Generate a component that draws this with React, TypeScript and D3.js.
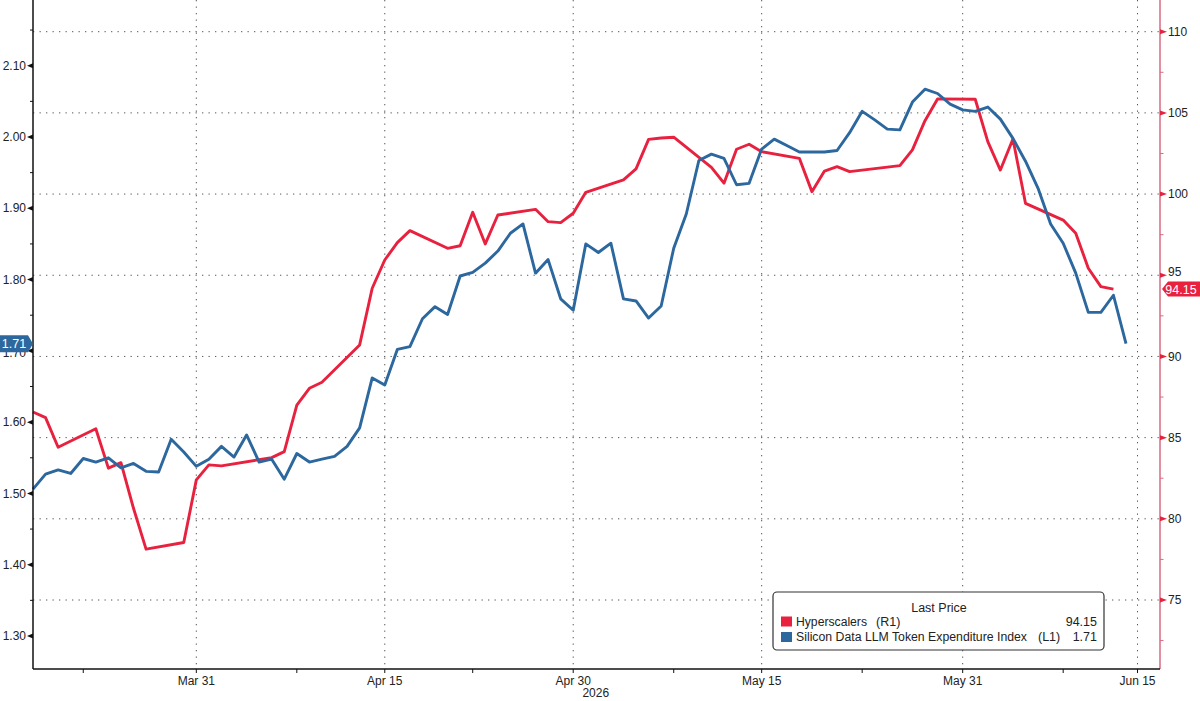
import React from "react";
import * as d3 from "d3";

// Silicon Data LLM Token Expenditure Index (left axis), daily incl. weekends
const blueStart = new Date(2026, 2, 18);
const blueEnd = new Date(2026, 5, 14);
const blueValues = [
  // Mar 18 - Mar 31
  1.506, 1.527, 1.533, 1.528, 1.549, 1.544, 1.55, 1.536, 1.542, 1.531, 1.53, 1.576, 1.558, 1.538,
  // Apr
  1.548, 1.566, 1.551, 1.582, 1.544, 1.548, 1.52, 1.556, 1.544, 1.548, 1.552, 1.566, 1.592, 1.662, 1.652,
  1.702, 1.706, 1.745, 1.762, 1.751, 1.805, 1.81, 1.823, 1.84, 1.865, 1.878, 1.809, 1.828, 1.773, 1.757,
  // May
  1.85, 1.838, 1.851, 1.773, 1.77, 1.746, 1.763, 1.844, 1.892, 1.967, 1.976, 1.97, 1.933, 1.935, 1.983,
  1.997, 1.988, 1.979, 1.979, 1.979, 1.981, 2.006, 2.036, 2.024, 2.011, 2.01, 2.049, 2.067, 2.061, 2.046, 2.038,
  // Jun 1 - Jun 13
  2.036, 2.042, 2.025, 1.998, 1.966, 1.928, 1.878, 1.851, 1.809, 1.754, 1.754, 1.778, 1.71,
];

// Hyperscalers (right axis), trading days
const redDates = [
  "2026-03-18", "2026-03-19", "2026-03-20", "2026-03-23", "2026-03-24", "2026-03-25", "2026-03-26", "2026-03-27",
  "2026-03-30", "2026-03-31", "2026-04-01", "2026-04-02", "2026-04-06", "2026-04-07", "2026-04-08", "2026-04-09",
  "2026-04-10", "2026-04-13", "2026-04-14", "2026-04-15", "2026-04-16", "2026-04-17", "2026-04-20", "2026-04-21",
  "2026-04-22", "2026-04-23", "2026-04-24", "2026-04-27", "2026-04-28", "2026-04-29", "2026-04-30", "2026-05-01",
  "2026-05-04", "2026-05-05", "2026-05-06", "2026-05-07", "2026-05-08", "2026-05-11", "2026-05-12", "2026-05-13",
  "2026-05-14", "2026-05-15", "2026-05-18", "2026-05-19", "2026-05-20", "2026-05-21", "2026-05-22", "2026-05-26",
  "2026-05-27", "2026-05-28", "2026-05-29", "2026-06-01", "2026-06-02", "2026-06-03", "2026-06-04", "2026-06-05",
  "2026-06-08", "2026-06-09", "2026-06-10", "2026-06-11", "2026-06-12",
];
const redValues = [
  86.58, 86.23, 84.41, 85.55, 83.12, 83.46, 80.65, 78.13, 78.54, 82.4,
  83.32, 83.26, 83.77, 84.14, 87.0, 88.04, 88.41, 90.71, 94.2, 95.94, 97.01, 97.75, 96.66, 96.82, 98.88,
  96.93, 98.71, 99.06, 98.3, 98.24, 98.82,
  100.11, 100.87, 101.55, 103.37, 103.45, 103.5, 101.65, 100.67, 102.76, 103.07, 102.61, 102.2, 100.15,
  101.42, 101.69, 101.38, 101.75, 102.72, 104.52, 105.86,
  105.84, 103.23, 101.48, 103.39, 99.43, 98.4, 97.59, 95.43, 94.3, 94.15,
];

const seriesNames = ["Hyperscalers", "Silicon Data LLM Token Expenditure Index"];
const seriesAxes = ["(R1)", "(L1)"];

const leftTicks = [1.3, 1.4, 1.5, 1.6, 1.7, 1.8, 1.9, 2.0, 2.1];
const leftMinor = [1.35, 1.45, 1.55, 1.65, 1.75, 1.85, 1.95, 2.05, 2.15];
const rightTicks = [75, 80, 85, 90, 95, 100, 105, 110];
const rightMinor = [72.5, 77.5, 82.5, 87.5, 92.5, 97.5, 102.5, 107.5];
const dateTicks = ["2026-03-31", "2026-04-15", "2026-04-30", "2026-05-15", "2026-05-31", "2026-06-15"];
const dateMinor = ["2026-03-22", "2026-04-08", "2026-04-22", "2026-05-08", "2026-05-23", "2026-06-08"];
const yearLabel = "2026";

const RED = "#e8213f";
const BLUE = "#2c679e";
const AXIS_RED = "#d96a82";
const FONT = "'Liberation Sans', Arial, sans-serif";

const parse = d3.timeParse("%Y-%m-%d");
const fmt = d3.timeFormat("%b %d");

const App = () => {
  const left = 33;
  const right = 1160;
  const bottom = 669;

  const x = d3
    .scaleTime()
    .domain([blueStart, new Date(2026, 5, 13), new Date(2026, 5, 15)])
    .range([33, 1126, 1137.5]);
  const yL = d3.scaleLinear().domain([2.1, 1.3]).range([65.7, 636]);
  const yR = d3.scaleLinear().domain([110, 75]).range([31.7, 600]);

  const blueDates = d3.timeDay.range(blueStart, blueEnd);
  const blue = blueDates.map((d, i) => ({ d, v: blueValues[i] }));
  const red = redDates.map((s, i) => ({ d: parse(s)!, v: redValues[i] }));

  const blueLine = d3
    .line<{ d: Date; v: number }>()
    .x((p) => x(p.d))
    .y((p) => yL(p.v));
  const redLine = d3
    .line<{ d: Date; v: number }>()
    .x((p) => x(p.d))
    .y((p) => yR(p.v));

  const lastBlue = blue[blue.length - 1];
  const lastRed = red[red.length - 1];
  const by = yL(lastBlue.v);
  const ry = yR(lastRed.v);

  const dot = { stroke: "#555", strokeWidth: 1, strokeDasharray: "1.3 5.2" };

  return (
    <svg
      width={1200}
      height={701}
      style={{ position: "absolute", left: 0, top: 0, background: "#fff" }}
      fontFamily={FONT}
    >
      {/* grid */}
      {rightTicks.map((t) => (
        <line key={"hg" + t} x1={left} x2={right} y1={yR(t)} y2={yR(t)} {...dot} />
      ))}
      {dateTicks.map((s) => (
        <line key={"vg" + s} x1={x(parse(s)!)} x2={x(parse(s)!)} y1={0} y2={bottom} {...dot} />
      ))}

      {/* lines */}
      <path d={redLine(red)!} fill="none" stroke={RED} strokeWidth={2.9} strokeLinejoin="round" />
      <path d={blueLine(blue)!} fill="none" stroke={BLUE} strokeWidth={2.9} strokeLinejoin="round" />

      {/* left axis */}
      <line x1={left} x2={left} y1={0} y2={bottom} stroke="#111" strokeWidth={1.5} />
      {leftMinor.map((t) => (
        <line key={"lm" + t} x1={left - 3} x2={left} y1={yL(t)} y2={yL(t)} stroke="#111" strokeWidth={1} />
      ))}
      {leftTicks.map((t) => (
        <g key={"lt" + t}>
          <path d={`M${left},${yL(t) - 2.5}L${left - 6},${yL(t)}L${left},${yL(t) + 2.5}Z`} fill="#111" />
          <text x={left - 7} y={yL(t) + (t === 1.7 ? 2 : 0)} dy="0.35em" textAnchor="end" fontSize={12} fill="#222">
            {t.toFixed(2)}
          </text>
        </g>
      ))}

      {/* right axis */}
      <line x1={right} x2={right} y1={0} y2={bottom} stroke={AXIS_RED} strokeWidth={1.5} />
      {rightMinor.map((t) => (
        <line key={"rm" + t} x1={right} x2={right + 3.5} y1={yR(t)} y2={yR(t)} stroke={AXIS_RED} strokeWidth={1} />
      ))}
      {rightTicks.map((t) => (
        <g key={"rt" + t}>
          <path d={`M${right},${yR(t) - 2.5}L${right + 7},${yR(t)}L${right},${yR(t) + 2.5}Z`} fill={RED} />
          <text
            x={right + 8}
            y={yR(t) - (t === 95 ? 3 : 0)}
            dy="0.35em"
            fontSize={12}
            fill="#222"
          >
            {t}
          </text>
        </g>
      ))}

      {/* bottom axis */}
      <line x1={left} x2={right} y1={bottom} y2={bottom} stroke="#111" strokeWidth={1.5} />
      {dateMinor.map((s) => (
        <line key={"xm" + s} x1={x(parse(s)!)} x2={x(parse(s)!)} y1={bottom} y2={bottom + 4} stroke="#111" />
      ))}
      {dateTicks.map((s) => (
        <g key={"xt" + s}>
          <line x1={x(parse(s)!)} x2={x(parse(s)!)} y1={bottom} y2={bottom + 4} stroke="#111" />
          <text x={x(parse(s)!)} y={bottom + 12} dy="0.35em" textAnchor="middle" fontSize={12} fill="#222">
            {fmt(parse(s)!)}
          </text>
        </g>
      ))}
      <text x={x(parse("2026-05-01")!) + 10} y={bottom + 24} dy="0.35em" textAnchor="middle" fontSize={12} fill="#222">
        {yearLabel}
      </text>

      {/* last value tags */}
      <path d={`M0,${by - 8.5}L28,${by - 8.5}L33,${by}L28,${by + 8.5}L0,${by + 8.5}Z`} fill={BLUE} />
      <text x={14} y={by} dy="0.36em" textAnchor="middle" fontSize={12.5} fill="#fff">
        {lastBlue.v.toFixed(2)}
      </text>
      <path d={`M${right + 2},${ry}L${right + 8},${ry - 7.5}L1200,${ry - 7.5}L1200,${ry + 7.5}L${right + 8},${ry + 7.5}Z`} fill={RED} />
      <text x={1181} y={ry} dy="0.36em" textAnchor="middle" fontSize={12.5} fill="#fff">
        {lastRed.v.toFixed(2)}
      </text>

      {/* legend */}
      <g fontSize={12.5} fill="#222">
        <rect x={773} y={592} width={331} height={58} rx={4} fill="#fff" stroke="#333" strokeWidth={1.2} />
        <text x={939} y={607.5} dy="0.35em" textAnchor="middle">
          Last Price
        </text>
        <rect x={781} y={616.5} width={11} height={10} fill={RED} />
        <text x={796} y={621.5} dy="0.35em" textLength={71} lengthAdjust="spacingAndGlyphs">
          {seriesNames[0]}
        </text>
        <text x={876} y={621.5} dy="0.35em">
          {seriesAxes[0]}
        </text>
        <text x={1097} y={621.5} dy="0.35em" textAnchor="end">
          {lastRed.v.toFixed(2)}
        </text>
        <rect x={781} y={632} width={11} height={10} fill={BLUE} />
        <text x={796} y={637} dy="0.35em" fontSize={12} textLength={231} lengthAdjust="spacingAndGlyphs">
          {seriesNames[1]}
        </text>
        <text x={1038} y={637} dy="0.35em">
          {seriesAxes[1]}
        </text>
        <text x={1097} y={637} dy="0.35em" textAnchor="end">
          {lastBlue.v.toFixed(2)}
        </text>
      </g>
    </svg>
  );
};

export default App;
